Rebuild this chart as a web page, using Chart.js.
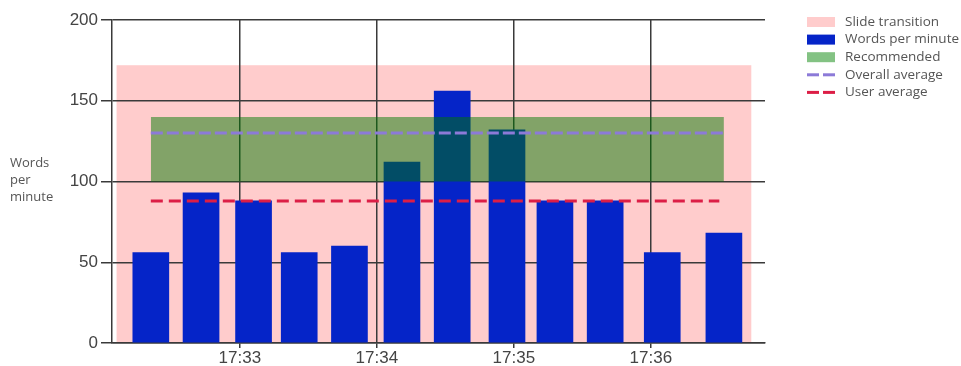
<!DOCTYPE html>
<html>
<head>
<meta charset="utf-8">
<title>Words per minute</title>
<script src="https://cdn.jsdelivr.net/npm/chart.js@4.4.1/dist/chart.umd.min.js"></script>
<style>
  html, body { margin: 0; padding: 0; background: #ffffff; }
  #wrap { width: 961px; height: 366px; }
</style>
</head>
<body>
<div id="wrap"><canvas id="chart" width="961" height="366"></canvas></div>
<script>
// Speech pace per slide, timestamped at the middle of each slide
const slideTimes = ['17:32:21', '17:32:43', '17:33:06', '17:33:26', '17:33:48', '17:34:11',
                    '17:34:33', '17:34:57', '17:35:18', '17:35:40', '17:36:05', '17:36:32'];
const wordsPerMinute = [56, 93, 88, 56, 60, 112, 156, 132, 88, 88, 56, 68];

// Reference levels
const recommendedRange = [100, 140];
const overallAverage = 130;
const userAverage = 88;

// Shaded slide-transition window
const transitionWindow = ['17:32:06', '17:36:44'];
const transitionHeight = 172;

// Axis settings
const timeRange = ['17:32:04', '17:36:50'];
const yTicks = [0, 50, 100, 150, 200];

const legendItems = [
  { label: 'Slide transition', kind: 'box', color: '#ffcccc' },
  { label: 'Words per minute', kind: 'box', color: '#0524c8' },
  { label: 'Recommended', kind: 'box', color: '#83c283' },
  { label: 'Overall average', kind: 'dash', color: '#8c7ad8' },
  { label: 'User average', kind: 'dash', color: '#dc1e46' }
];

function toSec(t) {
  const p = t.split(':').map(Number);
  return p[0] * 3600 + p[1] * 60 + (p[2] || 0);
}
function fmtMinute(v) {
  const h = Math.floor(v / 3600);
  const m = Math.floor((v % 3600) / 60);
  return h + ':' + String(m).padStart(2, '0');
}

const xs = slideTimes.map(toSec);
const firstX = xs[0];
const lastX = xs[xs.length - 1];
const gridColor = '#3a3a3a';

// Pink transition area sits underneath the grid
const transitionPlugin = {
  id: 'transitionArea',
  beforeDraw(chart) {
    const { ctx } = chart;
    const x = chart.scales.x, y = chart.scales.y;
    const x0 = x.getPixelForValue(toSec(transitionWindow[0]));
    const x1 = x.getPixelForValue(toSec(transitionWindow[1]));
    const yTop = y.getPixelForValue(transitionHeight);
    const yBot = y.getPixelForValue(0);
    ctx.save();
    ctx.fillStyle = '#ffcccc';
    ctx.fillRect(x0, yTop, x1 - x0, yBot - yTop);
    ctx.restore();
  }
};

// Axis title on the left and legend on the right
const sideTextPlugin = {
  id: 'sideText',
  afterDraw(chart) {
    const { ctx } = chart;
    ctx.save();
    ctx.font = '13px "Open Sans"';
    ctx.fillStyle = '#555555';
    ctx.textBaseline = 'middle';
    ctx.textAlign = 'left';
    ['Words', 'per', 'minute'].forEach((w, i) => ctx.fillText(w, 10, 163 + i * 17));

    ctx.font = '13.5px "Open Sans"';
    const lx = 807, lw = 28, tx = 845, y0 = 22, step = 17.6;
    legendItems.forEach((it, i) => {
      const cy = y0 + i * step;
      if (it.kind === 'box') {
        ctx.fillStyle = it.color;
        ctx.fillRect(lx, cy - 5, lw, 10);
      } else {
        ctx.fillStyle = it.color;
        ctx.fillRect(lx, cy - 1.5, 12, 3);
        ctx.fillRect(lx + 16, cy - 1.5, 12, 3);
      }
      ctx.fillStyle = '#555555';
      ctx.fillText(it.label, tx, cy);
    });
    ctx.restore();
  }
};

new Chart(document.getElementById('chart'), {
  type: 'bar',
  data: {
    datasets: [
      {
        type: 'bar',
        label: 'Words per minute',
        data: xs.map((x, i) => ({ x: x, y: wordsPerMinute[i] })),
        backgroundColor: '#0524c8',
        barThickness: 36,
        order: 4
      },
      {
        type: 'line',
        label: 'Recommended',
        data: [{ x: firstX, y: recommendedRange[1] }, { x: lastX, y: recommendedRange[1] }],
        fill: { value: recommendedRange[0] },
        backgroundColor: 'rgba(0, 120, 0, 0.49)',
        borderColor: 'rgba(0,0,0,0)',
        borderWidth: 0,
        pointRadius: 0,
        order: 3
      },
      {
        type: 'line',
        label: 'Overall average',
        data: [{ x: firstX, y: overallAverage }, { x: lastX, y: overallAverage }],
        borderColor: '#8c7ad8',
        borderWidth: 3,
        borderDash: [12, 4],
        pointRadius: 0,
        fill: false,
        order: 2
      },
      {
        type: 'line',
        label: 'User average',
        data: [{ x: firstX, y: userAverage }, { x: lastX - 2, y: userAverage }],
        borderColor: '#dc1e46',
        borderWidth: 3,
        borderDash: [12, 6],
        pointRadius: 0,
        fill: false,
        order: 1
      }
    ]
  },
  options: {
    responsive: false,
    animation: false,
    layout: { padding: { top: 20, right: 196, left: 0, bottom: 0 } },
    plugins: {
      legend: { display: false },
      tooltip: { enabled: false }
    },
    scales: {
      x: {
        type: 'linear',
        offset: false,
        min: toSec(timeRange[0]),
        max: toSec(timeRange[1]),
        grid: { offset: false, color: gridColor, lineWidth: 1.5, tickLength: 5, drawTicks: true },
        border: { display: true, color: gridColor, width: 1.5 },
        ticks: {
          stepSize: 60,
          includeBounds: false,
          autoSkip: false,
          maxRotation: 0,
          padding: 0,
          color: '#444444',
          font: { family: '"Liberation Sans", Arial, sans-serif', size: 17 },
          callback: (v) => fmtMinute(v)
        },
        afterFit: (s) => { s.height = 23; }
      },
      y: {
        min: yTicks[0],
        max: yTicks[yTicks.length - 1],
        grid: { color: gridColor, lineWidth: 1.5, tickLength: 11 },
        border: { display: true, color: gridColor, width: 1.5 },
        ticks: {
          stepSize: yTicks[1] - yTicks[0],
          padding: 3,
          color: '#444444',
          font: { family: '"Liberation Sans", Arial, sans-serif', size: 17 }
        },
        afterFit: (s) => { s.width = 112; }
      }
    }
  },
  plugins: [transitionPlugin, sideTextPlugin]
});
</script>
</body>
</html>
